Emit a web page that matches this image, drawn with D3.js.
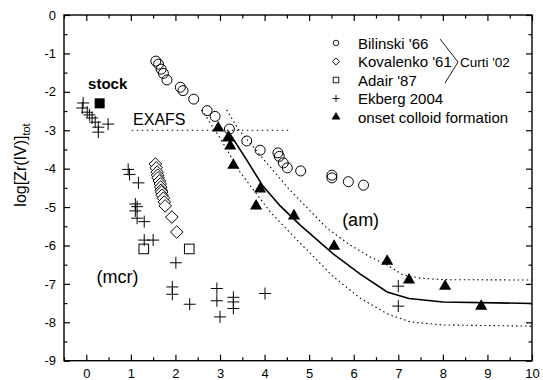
<!DOCTYPE html>
<html>
<head>
<meta charset="utf-8">
<script src="https://cdn.jsdelivr.net/npm/d3@7"></script>
<style>
  body { margin: 0; background: #fff; }
  svg { font-family: "Liberation Sans", Arial, sans-serif; }
</style>
</head>
<body>
<div id="chart"></div>
<script>
// data (x = -log[H+], y = log[Zr(IV)]tot)
const bilinski = [[1.56,-1.2],[1.62,-1.28],[1.68,-1.41],[1.73,-1.52],[1.81,-1.69],[2.11,-1.88],[2.17,-1.97],
  [2.41,-2.19],[2.71,-2.49],[2.89,-2.64],[3.21,-2.97],[3.6,-3.28],[3.9,-3.52],[4.3,-3.59],[4.33,-3.68],
  [4.42,-3.85],[4.51,-3.98],[4.81,-4.06],[5.51,-4.17],[5.51,-4.24],[5.88,-4.34],[6.22,-4.43]];
const kovalenko = [[1.55,-3.88],[1.57,-3.98],[1.59,-4.09],[1.6,-4.17],[1.61,-4.24],[1.64,-4.32],[1.66,-4.4],
  [1.67,-4.48],[1.68,-4.56],[1.69,-4.61],[1.7,-4.69],[1.73,-4.77],[1.75,-4.87],[1.77,-4.97],[1.92,-5.26],[2.03,-5.65]];
const adair = [[1.29,-6.09],[2.31,-6.09]];
const ekberg = [[-0.07,-2.29],[-0.09,-2.42],[0.02,-2.53],[0.07,-2.6],[0.13,-2.68],[0.2,-2.79],[0.27,-2.92],
  [0.27,-3.05],[0.49,-2.84],[0.94,-4.02],[0.97,-4.15],[1.17,-4.37],[1.1,-4.92],[1.14,-4.99],[1.1,-5.1],
  [1.14,-5.29],[1.3,-5.38],[1.3,-5.86],[1.5,-5.86],[2.01,-6.45],[1.93,-7.08],[1.93,-7.27],[2.32,-7.53],
  [2.93,-7.12],[2.93,-7.44],[3.0,-7.86],[3.3,-7.35],[3.3,-7.47],[3.3,-7.64],[4.01,-7.25],[7.0,-7.06],[7.0,-7.58]];
const colloidOnset = [[2.96,-2.94],[3.18,-3.2],[3.23,-3.41],[3.3,-3.91],[3.9,-4.53],[3.81,-4.97],[4.66,-5.23],
  [5.56,-6.02],[6.75,-6.41],[7.24,-6.9],[8.05,-7.06],[8.86,-7.58]];
const stock = [[0.3,-2.3]];

// solubility curve (am) and its uncertainty band
const fitCurve = [[3.18,-3.02],[3.57,-3.72],[3.95,-4.43],[4.35,-4.97],[4.8,-5.47],[5.54,-6.22],[6.14,-6.74],
  [6.75,-7.21],[7.24,-7.38],[8.0,-7.47],[10,-7.51]];
const fitUpper = [[3.15,-2.47],[3.41,-2.97],[3.95,-3.72],[4.57,-4.56],[5.4,-5.55],[5.92,-5.99],[6.37,-6.3],
  [6.75,-6.51],[7.11,-6.77],[7.49,-6.85],[8.0,-6.89],[10,-6.9]];
const fitLower = [[2.59,-2.47],[3.0,-3.2],[3.45,-4.09],[4.13,-5.13],[4.8,-5.94],[5.54,-6.81],[6.14,-7.37],
  [6.74,-7.77],[7.26,-7.99],[8.01,-8.07],[10,-8.1]];
const exafsLine = [[1.02,-3],[4.53,-3]];

const xTicks = d3.range(0, 11, 1);
const yTicks = d3.range(0, -10, -1);
const legendLabels = ["Bilinski '66", "Kovalenko '61", "Adair '87", "Ekberg 2004", "onset colloid formation"];

const width = 543, height = 380;
const margin = { top: 15, right: 11, bottom: 19.3, left: 64 };

const svg = d3.select("#chart").append("svg")
  .attr("width", width)
  .attr("height", height);

const x = d3.scaleLinear().domain([-0.5, 10]).range([margin.left, width - margin.right]);
const y = d3.scaleLinear().domain([0, -9]).range([margin.top, height - margin.bottom]);

const line = d3.line().x(d => x(d[0])).y(d => y(d[1]));

// axes, ticks inward on all four sides
const fontSize = "13px";
function styleAxis(g) {
  g.select(".domain").remove();
  g.selectAll("line").attr("stroke", "#000").attr("stroke-width", 1.2);
  g.selectAll("text").attr("fill", "#000").style("font-size", fontSize).style("font-family", "Liberation Sans, Arial, sans-serif");
}
const xMinor = d3.range(-0.5, 10.01, 0.5).filter(v => !Number.isInteger(v));
const yMinor = d3.range(0, -9.01, -0.5).filter(v => !Number.isInteger(v));

svg.append("g").attr("transform", `translate(0,${y(-9)})`)
  .call(d3.axisBottom(x).tickValues(xTicks).tickSize(-6).tickSizeOuter(0).tickPadding(8).tickFormat(d3.format("d")))
  .call(styleAxis);
svg.append("g").attr("transform", `translate(0,${y(-9)})`)
  .call(d3.axisBottom(x).tickValues(xMinor).tickSize(-3.5).tickSizeOuter(0).tickFormat(""))
  .call(styleAxis);
svg.append("g").attr("transform", `translate(0,${y(0)})`)
  .call(d3.axisTop(x).tickValues(xTicks).tickSize(-6).tickSizeOuter(0).tickFormat(""))
  .call(styleAxis);
svg.append("g").attr("transform", `translate(0,${y(0)})`)
  .call(d3.axisTop(x).tickValues(xMinor).tickSize(-3.5).tickSizeOuter(0).tickFormat(""))
  .call(styleAxis);

svg.append("g").attr("transform", `translate(${x(-0.5)},0)`)
  .call(d3.axisLeft(y).tickValues(yTicks).tickSize(-6).tickSizeOuter(0).tickPadding(8).tickFormat(d => d3.format("d")(d).replace("−", "-")))
  .call(styleAxis);
svg.append("g").attr("transform", `translate(${x(-0.5)},0)`)
  .call(d3.axisLeft(y).tickValues(yMinor).tickSize(-3.5).tickSizeOuter(0).tickFormat(""))
  .call(styleAxis);
svg.append("g").attr("transform", `translate(${x(10)},0)`)
  .call(d3.axisRight(y).tickValues(yTicks).tickSize(-6).tickSizeOuter(0).tickFormat(""))
  .call(styleAxis);
svg.append("g").attr("transform", `translate(${x(10)},0)`)
  .call(d3.axisRight(y).tickValues(yMinor).tickSize(-3.5).tickSizeOuter(0).tickFormat(""))
  .call(styleAxis);

svg.append("rect")
  .attr("x", x(-0.5)).attr("y", y(0))
  .attr("width", x(10) - x(-0.5)).attr("height", y(-9) - y(0))
  .attr("fill", "none").attr("stroke", "#000").attr("stroke-width", 1.4);

// y axis title
svg.append("text")
  .attr("transform", `translate(26,165) rotate(-90)`)
  .attr("text-anchor", "middle")
  .style("font-size", "16px")
  .text("log[Zr(IV)]")
  .append("tspan").attr("dy", 4).style("font-size", "11px").text("tot");

// lines
svg.append("path").datum(exafsLine).attr("d", line)
  .attr("fill", "none").attr("stroke", "#000").attr("stroke-width", 1.2).attr("stroke-dasharray", "1.5,3.5");
[fitUpper, fitLower].forEach(c => {
  svg.append("path").datum(c).attr("d", line)
    .attr("fill", "none").attr("stroke", "#000").attr("stroke-width", 1.1).attr("stroke-dasharray", "1.5,3");
});
svg.append("path").datum(fitCurve).attr("d", line)
  .attr("fill", "none").attr("stroke", "#000").attr("stroke-width", 1.6);

// markers
const sym = (type, size) => d3.symbol().type(type).size(size)();
const diamond = s => `M0,${-s}L${s},0L0,${s}L${-s},0Z`;

svg.selectAll(".bil").data(bilinski).enter().append("circle")
  .attr("cx", d => x(d[0])).attr("cy", d => y(d[1])).attr("r", 5)
  .attr("fill", "none").attr("stroke", "#000").attr("stroke-width", 1);

svg.selectAll(".kov").data(kovalenko).enter().append("path")
  .attr("transform", d => `translate(${x(d[0])},${y(d[1])})`)
  .attr("d", diamond(6.3))
  .attr("fill", "#fff").attr("stroke", "#000").attr("stroke-width", 1);

svg.selectAll(".ada").data(adair).enter().append("rect")
  .attr("x", d => x(d[0]) - 4.8).attr("y", d => y(d[1]) - 4.8)
  .attr("width", 9.6).attr("height", 9.6)
  .attr("fill", "none").attr("stroke", "#000").attr("stroke-width", 1);

svg.selectAll(".stk").data(stock).enter().append("rect")
  .attr("x", d => x(d[0]) - 5).attr("y", d => y(d[1]) - 5)
  .attr("width", 10).attr("height", 10).attr("fill", "#000");

svg.selectAll(".ekb").data(ekberg).enter().append("path")
  .attr("transform", d => `translate(${x(d[0])},${y(d[1])})`)
  .attr("d", "M-6,0H6M0,-6V6")
  .attr("stroke", "#000").attr("stroke-width", 1);

svg.selectAll(".col").data(colloidOnset).enter().append("path")
  .attr("transform", d => `translate(${x(d[0])},${y(d[1])})`)
  .attr("d", sym(d3.symbolTriangle, 64))
  .attr("fill", "#000");

// annotations
const note = (t, px, py, size, weight) => svg.append("text")
  .attr("x", x(px)).attr("y", y(py))
  .style("font-size", size).style("font-weight", weight || "normal").text(t);
note("stock", 0.04, -1.93, "15px", "bold");
note("EXAFS", 1.05, -2.86, "16px");
note("(am)", 5.74, -5.5, "18px");
note("(mcr)", 0.23, -6.98, "18px");

// legend
const legend = svg.append("g");
const rowY = i => 43 + i * 18.5;
const lx = 336;
legend.append("circle").attr("cx", lx).attr("cy", rowY(0)).attr("r", 2.8)
  .attr("fill", "none").attr("stroke", "#000").attr("stroke-width", 0.9);
legend.append("path").attr("transform", `translate(${lx},${rowY(1)})`).attr("d", diamond(3.6))
  .attr("fill", "none").attr("stroke", "#000").attr("stroke-width", 0.9);
legend.append("rect").attr("x", lx - 2.8).attr("y", rowY(2) - 2.8).attr("width", 5.6).attr("height", 5.6)
  .attr("fill", "none").attr("stroke", "#000").attr("stroke-width", 0.9);
legend.append("path").attr("transform", `translate(${lx},${rowY(3)})`).attr("d", "M-3.5,0H3.5M0,-3.5V3.5")
  .attr("stroke", "#000").attr("stroke-width", 0.9);
legend.append("path").attr("transform", `translate(${lx},${rowY(4)})`).attr("d", sym(d3.symbolTriangle, 34))
  .attr("fill", "#000");
legend.selectAll(".lt").data(legendLabels).enter().append("text")
  .attr("x", 358).attr("y", (d, i) => rowY(i) + 5.5)
  .style("font-size", "15px").text(d => d);

legend.append("path").attr("d", "M440,39L458,62L445,83")
  .attr("fill", "none").attr("stroke", "#000").attr("stroke-width", 0.9);
legend.append("text").attr("x", 460).attr("y", 66.5).style("font-size", "13.5px").text("Curti '02");
</script>
</body>
</html>
